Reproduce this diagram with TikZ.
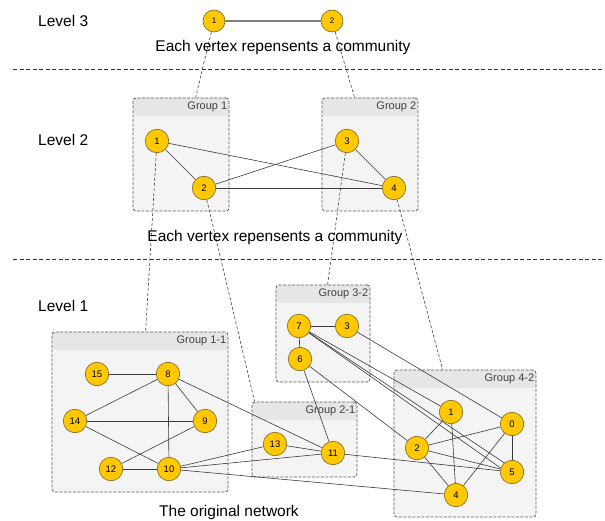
\documentclass[tikz,border=0pt]{standalone}
\usepackage{fontspec}
\setmainfont{Liberation Sans}
\usetikzlibrary{fit}
\definecolor{vtxfill}{HTML}{FFC800}
\definecolor{vtxline}{HTML}{7A6420}
\definecolor{edgecol}{HTML}{3A3A3A}
\definecolor{grpfill}{HTML}{F4F4F4}
\definecolor{grphead}{HTML}{E6E6E6}
\definecolor{grpline}{HTML}{5A5A5A}
\definecolor{grptext}{HTML}{404040}
\pgfdeclarelayer{boxes}
\pgfdeclarelayer{links}
\pgfsetlayers{boxes,links,main}

\begin{document}
\begin{tikzpicture}[x=1pt,y=-1pt,
  vtx/.style={circle, draw=vtxline, line width=0.6pt, fill=vtxfill, minimum size=23.5pt, inner sep=0pt, font=\fontsize{9.5}{9.5}\selectfont},
  topvtx/.style={vtx, minimum size=22pt, font=\fontsize{8}{8}\selectfont},
  link/.style={draw=edgecol, line width=0.6pt},
  toplink/.style={draw=black!50, line width=1.3pt},
  tie/.style={draw=black!75, line width=0.6pt, dash pattern=on 3pt off 2pt},
  sep/.style={draw=black!80, line width=0.6pt, dash pattern=on 4pt off 2.5pt},
  grp/.style={draw=grpline, line width=0.8pt, dash pattern=on 3pt off 1.5pt, fill=grpfill,
    rounded corners=3pt, inner sep=0pt,
    path picture={\fill[grphead] (path picture bounding box.north west) rectangle ([yshift=-18pt]path picture bounding box.north east);}},
  grplab/.style={anchor=east, text=grptext, inner sep=0pt, font=\fontsize{11}{11}\selectfont},
  lvl/.style={anchor=west, inner sep=0pt, font=\fontsize{15.5}{15.5}\selectfont},
  note/.style={inner sep=0pt, font=\fontsize{15.5}{15.5}\selectfont}
]
\useasboundingbox (0,0) rectangle (605,521);

% level captions and separators
\node[lvl] (lv3) at (38,21) {Level 3};
\node[lvl] (lv2) at (38,140) {Level 2};
\node[lvl] (lv1) at (38,306) {Level 1};
\node[note] (cap3) at (283,47) {Each vertex repensents a community};
\node[note] (cap2) at (275,237) {Each vertex repensents a community};
\node[note] (cap1) at (229,512) {The original network};
\coordinate (s1a) at (13,69);  \coordinate (s1b) at (605,69);
\coordinate (s2a) at (13,259); \coordinate (s2b) at (605,259);
\draw[sep] (s1a) -- (s1b);
\draw[sep] (s2a) -- (s2b);

% community boxes
\begin{pgfonlayer}{boxes}
\node[grp, fit={(133,98) (229,211)}] (g1) {};
\node[grp, fit={(322,98) (418,211)}] (g2) {};
\node[grp, fit={(52,332) (228,492)}] (g11) {};
\node[grp, fit={(276,285) (370,382)}] (g32) {};
\node[grp, fit={(252,402) (357,477)}] (g21) {};
\node[grp, fit={(394,370) (536,517)}] (g42) {};
\end{pgfonlayer}
\node[grplab] (g1l)  at ([xshift=-2pt,yshift=-9pt]g1.north east)  {Group 1};
\node[grplab] (g2l)  at ([xshift=-2pt,yshift=-9pt]g2.north east)  {Group 2};
\node[grplab] (g11l) at ([xshift=-2pt,yshift=-9pt]g11.north east) {Group 1-1};
\node[grplab] (g32l) at ([xshift=-2pt,yshift=-9pt]g32.north east) {Group 3-2};
\node[grplab] (g21l) at ([xshift=-2pt,yshift=-9pt]g21.north east) {Group 2-1};
\node[grplab] (g42l) at ([xshift=-2pt,yshift=-9pt]g42.north east) {Group 4-2};

% level 3
\node[topvtx] (t1) at (214,21) {1};
\node[topvtx] (t2) at (332,21) {2};

% level 2
\node[vtx] (a1) at (157,141) {1};
\node[vtx] (a2) at (204,188) {2};
\node[vtx] (a3) at (347,141) {3};
\node[vtx] (a4) at (394,188) {4};

% level 1
\node[vtx] (n15) at (97,374) {15};
\node[vtx] (n8)  at (168,374) {8};
\node[vtx] (n14) at (75,421) {14};
\node[vtx] (n9)  at (205,421) {9};
\node[vtx] (n12) at (111,469) {12};
\node[vtx] (n10) at (169,469) {10};
\node[vtx] (n7)  at (299,326) {7};
\node[vtx] (n3)  at (347,326) {3};
\node[vtx] (n6)  at (300,359) {6};
\node[vtx] (n13) at (275,444) {13};
\node[vtx] (n11) at (333,453) {11};
\node[vtx] (n1)  at (451,412) {1};
\node[vtx] (n0)  at (512,424) {0};
\node[vtx] (n2)  at (417,448) {2};
\node[vtx] (n5)  at (512,472) {5};
\node[vtx] (n4)  at (456,495) {4};

\begin{pgfonlayer}{links}
% level 3 edge
\draw[toplink] (t1) -- (t2);
% level 2 edges
\draw[link] (a1) -- (a2);
\draw[link] (a1) -- (a4);
\draw[link] (a2) -- (a3);
\draw[link] (a2) -- (a4);
\draw[link] (a3) -- (a4);
% level 1 edges
\draw[link] (n15) -- (n8);
\draw[link] (n8) -- (n14);
\draw[link] (n8) -- (n10);
\draw[link] (n8) -- (n9);
\draw[link] (n14) -- (n9);
\draw[link] (n14) -- (n10);
\draw[link] (n12) -- (n9);
\draw[link] (n12) -- (n10);
\draw[link] (n8) -- (n11);
\draw[link] (n10) -- (n13);
\draw[link] (n10) -- (n11);
\draw[link] (n10) -- (n4);
\draw[link] (n13) -- (n11);
\draw[link] (n6) -- (n11);
\draw[link] (n11) -- (n5);
\draw[link] (n7) -- (n3);
\draw[link] (n7) -- (n6);
\draw[link] (n7) -- (n1);
\draw[link] (n7) -- ([yshift=4pt]n5.center);
\draw[link] (n7) -- ([yshift=-4pt]n5.center);
\draw[link] (n3) -- (n0);
\draw[link] (n6) -- (n2);
\draw[link] (n1) -- (n2);
\draw[link] (n1) -- (n4);
\draw[link] (n2) -- (n0);
\draw[link] (n2) -- (n5);
\draw[link] (n2) -- (n4);
\draw[link] (n0) -- (n5);
\draw[link] (n0) -- (n4);
% vertices to the communities they stand for
\draw[tie] (t1) -- ([xshift=63pt]g1.north west);
\draw[tie] (t2) -- ([xshift=33pt]g2.north west);
\draw[tie] (a1) -- ([xshift=94pt]g11.north west);
\draw[tie] (a2) -- ([xshift=3pt]g21.north west);
\draw[tie] (a3) -- ([xshift=52pt]g32.north west);
\draw[tie] (a4) -- ([xshift=49pt]g42.north west);
\end{pgfonlayer}
\end{tikzpicture}
\end{document}
